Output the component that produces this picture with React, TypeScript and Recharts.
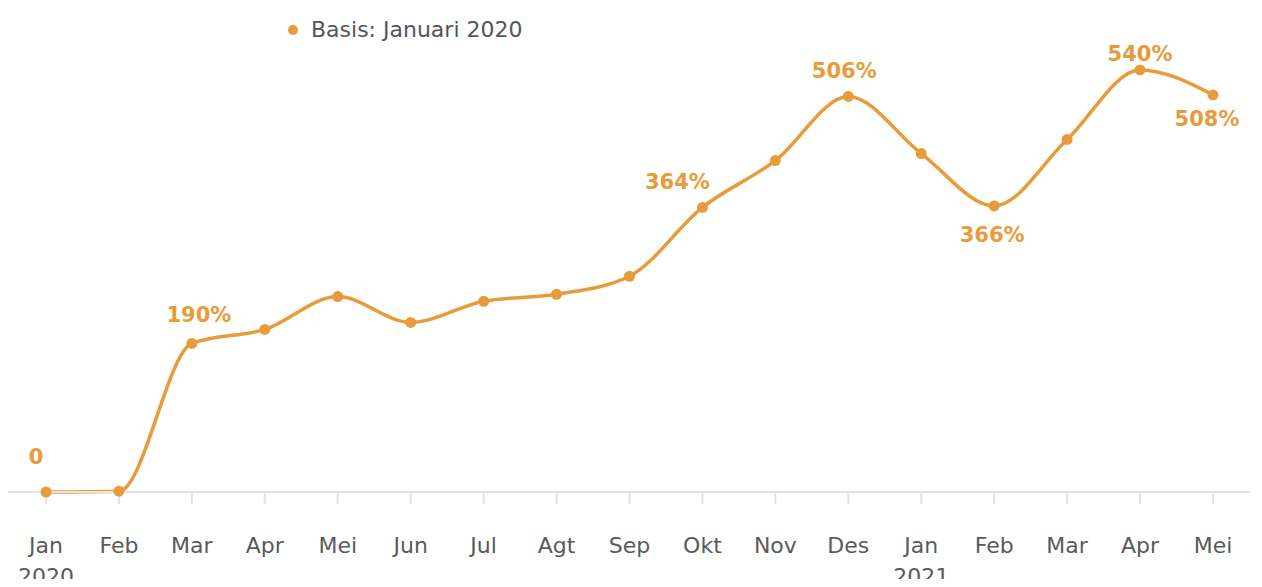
import React from "react";
import { LineChart, Line, XAxis, YAxis, LabelList } from "recharts";

const months = ["Jan", "Feb", "Mar", "Apr", "Mei", "Jun", "Jul", "Agt", "Sep", "Okt", "Nov", "Des", "Jan", "Feb", "Mar", "Apr", "Mei"];
const years = ["2020", "", "", "", "", "", "", "", "", "", "", "", "2021", "", "", "", ""];
const growth = [0, 1, 190, 208, 250, 217, 244, 253, 276, 364, 424, 506, 433, 366, 451, 540, 508];
const pointLabels = ["0", "", "190%", "", "", "", "", "", "", "364%", "", "506%", "", "366%", "", "540%", "508%"];
const seriesName = "Basis: Januari 2020";

const labelOffsets: Record<number, [number, number]> = {
  0: [-10, -35],
  2: [7, -28],
  9: [-25, -25],
  11: [-4, -25],
  13: [-2, 29],
  15: [0, -16],
  16: [-6, 24],
};

const data = months.map((m, i) => ({ key: i, month: m, year: years[i], value: growth[i], label: pointLabels[i] }));

const ORANGE = "#E89B3B";
const FONT = "'DejaVu Sans', sans-serif";

const Tick = (props: any) => {
  const { x, y, payload } = props;
  const d = data[payload.value];
  return (
    <g>
      <text x={x} y={y + 39} textAnchor="middle" dominantBaseline="central" fill="#5a5a5a" fontSize={22} fontFamily={FONT}>
        {d.month}
      </text>
      {d.year ? (
        <text x={x} y={y + 70} textAnchor="middle" dominantBaseline="central" fill="#5a5a5a" fontSize={22} fontFamily={FONT}>
          {d.year}
        </text>
      ) : null}
    </g>
  );
};

const PointLabel = (props: any) => {
  const { x, y, index } = props;
  const text = pointLabels[index];
  if (!text) return null;
  const off = labelOffsets[index] || [0, -25];
  return (
    <text x={x + off[0]} y={y + off[1]} textAnchor="middle" dominantBaseline="central" fill={ORANGE} fontSize={21} fontWeight={700} fontFamily={FONT}>
      {text}
    </text>
  );
};

export default function App() {
  return (
    <div style={{ margin: -8, position: "relative", width: 1262, height: 587, background: "#fff", overflow: "hidden" }}>
      <div style={{ position: "absolute", top: 0, left: 195, width: 365, height: 2, background: "#cfe0f2" }} />
      <div style={{ position: "absolute", top: 0, left: 650, width: 330, height: 2, background: "#cfe0f2" }} />
      <div
        style={{
          position: "absolute",
          top: 17,
          left: 287,
          display: "flex",
          alignItems: "center",
          fontFamily: FONT,
          fontSize: 22,
          color: "#555",
          zIndex: 2,
        }}
      >
        <svg width={12} height={12} style={{ marginRight: 12 }}>
          <circle cx={6} cy={6} r={5} fill={ORANGE} />
        </svg>
        <span>{seriesName}</span>
      </div>
      <LineChart width={1262} height={587} data={data} margin={{ top: 23, right: 12, bottom: 0, left: 8 }}>
        <XAxis
          dataKey="key"
          type="category"
          padding={{ left: 38, right: 37 }}
          axisLine={{ stroke: "#e3e3e3", strokeWidth: 2 }}
          tickLine={{ stroke: "#e3e3e3", strokeWidth: 2 }}
          tickSize={12}
          height={95}
          interval={0}
          tick={<Tick />}
        />
        <YAxis hide domain={[0, 600]} />
        <Line
          type="monotone"
          dataKey="value"
          name={seriesName}
          stroke={ORANGE}
          strokeWidth={3.5}
          dot={{ r: 5.5, fill: ORANGE, stroke: ORANGE, strokeWidth: 0 }}
          activeDot={false}
          isAnimationActive={false}
        >
          <LabelList dataKey="label" content={<PointLabel />} />
        </Line>
      </LineChart>
    </div>
  );
}
